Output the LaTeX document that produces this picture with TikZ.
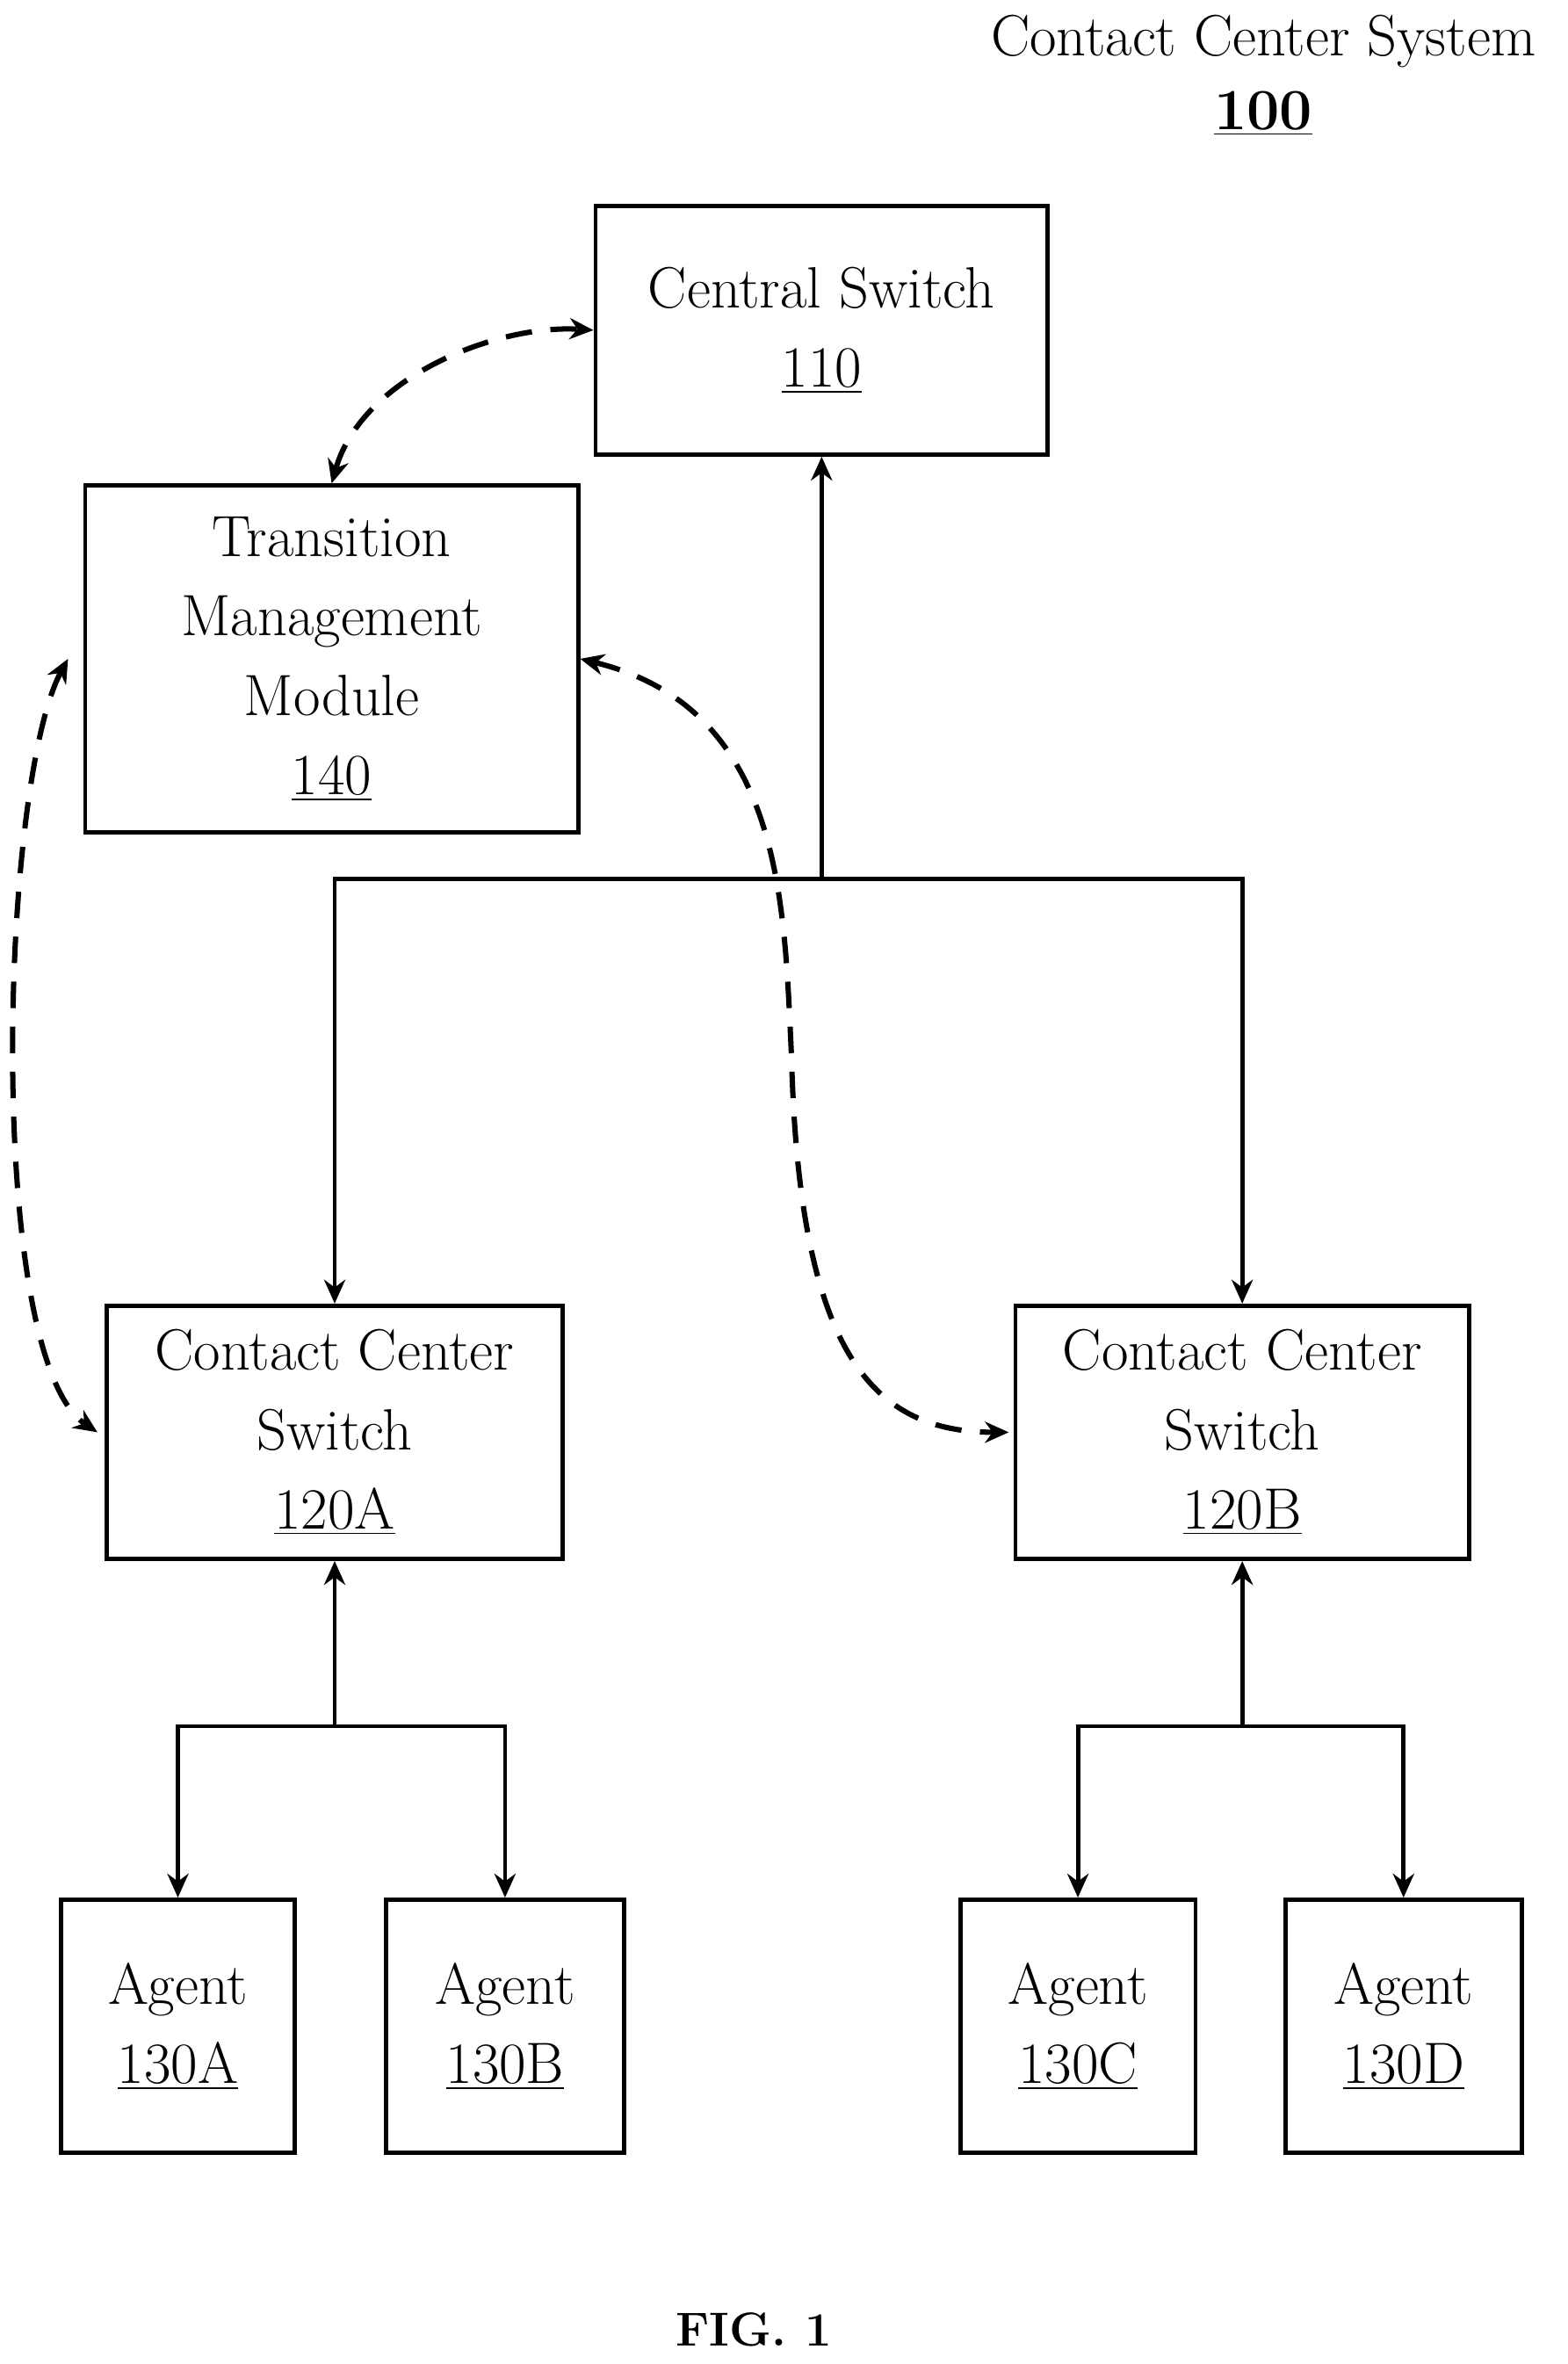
\documentclass[tikz,border=0pt]{standalone}
\usepackage{tikz}
\usetikzlibrary{positioning, calc, arrows.meta}

\tikzset{
  box/.style={draw, line width=1.6pt, align=center, font=\fontsize{22}{30}\selectfont},
  link/.style={line width=1.6pt, -{Stealth[length=9pt,width=8pt]}},
  dlink/.style={line width=2pt, dash pattern=on 10pt off 7pt, {Stealth[length=9pt,width=8pt]}-{Stealth[length=9pt,width=8pt]}}
}

\begin{document}
\begin{tikzpicture}[x=0.02cm, y=-0.02cm]
			\useasboundingbox (0,0) rectangle (1040,1568);
			\node[font=\fontsize{22}{30}\selectfont, align=center] (title) at (838,50) {Contact Center System\\[-2pt]\textbf{\underline{100}}};
			
			\node[box, minimum width=6cm, minimum height=3.3cm] (cs) at (545,219) {Central Switch\\\underline{110}};
			\node[box, minimum width=6.54cm, minimum height=4.6cm] (tmm) at (220,437) {Transition\\Management\\Module\\\underline{140}};
			\node[box, minimum width=6.04cm, minimum height=3.36cm] (ccsa) at (222,950) {Contact Center\\Switch\\\underline{120A}};
			\node[box, minimum width=6.02cm, minimum height=3.36cm] (ccsb) at (824,950) {Contact Center\\Switch\\\underline{120B}};
			
			\node[box, minimum width=3.1cm, minimum height=3.36cm] (aa) at (118,1344) {Agent\\\underline{130A}};
			\node[box, minimum width=3.16cm, minimum height=3.36cm] (ab) at (335,1344) {Agent\\\underline{130B}};
			\node[box, minimum width=3.12cm, minimum height=3.36cm] (ac) at (715,1344) {Agent\\\underline{130C}};
			\node[box, minimum width=3.14cm, minimum height=3.36cm] (ad) at (931,1344) {Agent\\\underline{130D}};
			
			\node[font=\fontsize{18}{22}\selectfont\bfseries] (fig) at (500,1545) {FIG. 1};
			
			% tree links
			\coordinate (j1) at (545,583);
			\coordinate (j2) at (222,1145);
			\coordinate (j3) at (824,1145);
			\draw[link] (j1) -- (cs.south);
			\draw[link] (j1) -| (ccsa.north);
			\draw[link] (j1) -| (ccsb.north);
			\draw[link] (j2) -- (ccsa.south);
			\draw[link] (j2) -| (aa.north);
			\draw[link] (j2) -| (ab.north);
			\draw[link] (j3) -- (ccsb.south);
			\draw[link] (j3) -| (ac.north);
			\draw[link] (j3) -| (ad.north);
			
			% dashed links to the module
			\draw[dlink] (tmm.north) .. controls (240,250) and (330,215) .. (cs.west);
			\draw[dlink] ($(tmm.west)+(-10,0)$) .. controls (0,520) and (-10,900) .. ($(ccsa.west)+(-5,0)$);
			\draw[dlink] (tmm.east) .. controls (520,470) and (520,600) .. (525,700) .. controls (530,900) and (580,950) .. ($(ccsb.west)+(-3,0)$);
\end{tikzpicture}
\end{document}
